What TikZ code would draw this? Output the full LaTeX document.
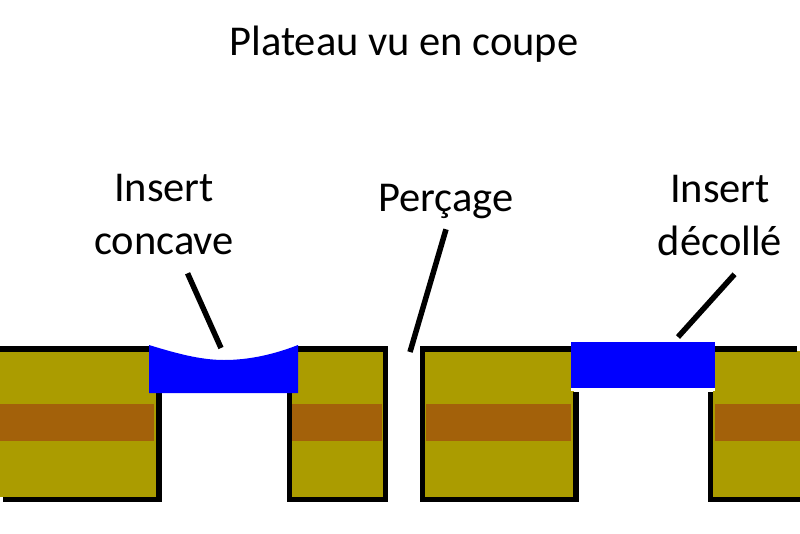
\documentclass[tikz,border=0pt]{standalone}
\usepackage{fontspec}
\setmainfont{Carlito}
\definecolor{plateolive}{RGB}{171,156,0}
\definecolor{corebrown}{RGB}{163,97,10}
\tikzset{
    caption/.style={inner sep=0pt,align=center,font=\fontsize{42.5}{53}\selectfont},
    twolines/.style={caption,outer ysep=18},
    wall/.style={draw=black,line width=5.5,line cap=butt,line join=miter},
    leader/.style={draw=black,line width=5.5},
}

\begin{document}
\begin{tikzpicture}[x=1pt,y=-1pt]
\useasboundingbox (0,0) rectangle (800,533);
% Plate bodies and their core band
\foreach \xa/\xb/\xc/\xd in {0/157/0/154, 292/383/292/382, 425/574/426/571, 713/800/715/800}
{
        \fill[plateolive] (\xa,351) rectangle (\xb,497);
        \fill[corebrown] (\xc,404) rectangle (\xd,441);
}
% Outlines
\draw[wall] (0,349) -- (150,349);
\draw[wall] (159,392) -- (159,499.5) -- (3,499.5);
\draw[wall] (298,349) -- (385.5,349) -- (385.5,502);
\draw[wall] (289.5,392) -- (289.5,499.5) -- (385.5,499.5);
\draw[wall] (571,349) -- (422.5,349) -- (422.5,499.5) -- (576,499.5) -- (576,392);
\draw[wall] (715,349) -- (797,349);
\draw[wall] (710.5,392) -- (710.5,499.5) -- (800,499.5);
% Inserts
\fill[blue] (149,345) .. controls (175,353) and (200,360) .. (224,360)
        .. controls (250,360) and (275,354) .. (298,345)
        -- (298,393) -- (149,393) -- cycle;
\fill[white] (571,385) rectangle (715,391);
\fill[blue] (571,342) rectangle (715,388);
% Labels
\node[caption] (title) at (404,44) {Plateau vu en coupe};
\node[twolines] (concavelabel) at (164,215) {Insert\\concave};
\node[caption,outer ysep=10] (drilllabel) at (446,202) {Perçage};
\node[twolines] (liftedlabel) at (720,216) {Insert\\décollé};
\coordinate (concavetip) at (221,348);
\coordinate (drilltip) at (410,352);
\coordinate (liftedtip) at (678,337);
\draw[leader] (concavelabel.-68) -- (concavetip);
\draw[leader] (drilllabel.south) -- (drilltip);
\draw[leader] (liftedlabel.-76) -- (liftedtip);
\end{tikzpicture}
\end{document}
